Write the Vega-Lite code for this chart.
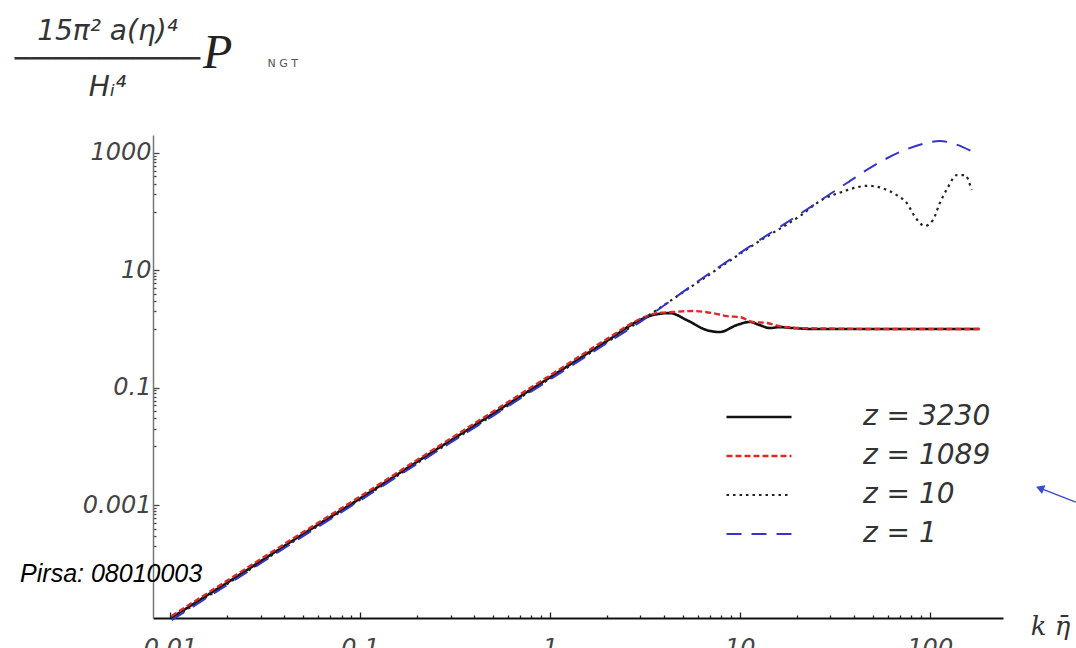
{
  "$schema": "https://vega.github.io/schema/vega-lite/v6.json",
  "width": 850,
  "height": 483,
  "autosize": "none",
  "padding": {"left": 153, "top": 135, "right": 73, "bottom": 30},
  "background": "white",
  "config": {"view": {"stroke": null}},
  "title": {
    "text": "P",
    "subtitle": "\u2800\u2800\u2800\u2800\u2800\u2800\u2800\u2800N G T",
    "anchor": "start",
    "frame": "group",
    "dx": 50,
    "offset": -61,
    "font": "Liberation Serif",
    "fontStyle": "italic",
    "fontWeight": "normal",
    "fontSize": 48,
    "color": "#222",
    "subtitleFont": "DejaVu Sans",
    "subtitleFontSize": 11,
    "subtitleColor": "#555",
    "subtitlePadding": -20
  },
  "layer": [
    {
      "data": {
        "values": [
          {"z": "z = 3230", "k": 0.0102, "P": 1.22e-5},
          {"z": "z = 3230", "k": 0.02, "P": 4.8e-5},
          {"z": "z = 3230", "k": 0.05, "P": 3.2e-4},
          {"z": "z = 3230", "k": 0.1, "P": 1.3e-3},
          {"z": "z = 3230", "k": 0.2, "P": 5.5e-3},
          {"z": "z = 3230", "k": 0.5, "P": 0.036},
          {"z": "z = 3230", "k": 1, "P": 0.15},
          {"z": "z = 3230", "k": 2, "P": 0.63},
          {"z": "z = 3230", "k": 2.98, "P": 1.42},
          {"z": "z = 3230", "k": 3.48, "P": 1.73},
          {"z": "z = 3230", "k": 4.28, "P": 1.87},
          {"z": "z = 3230", "k": 5.26, "P": 1.42},
          {"z": "z = 3230", "k": 6.7, "P": 0.96},
          {"z": "z = 3230", "k": 7.85, "P": 0.89},
          {"z": "z = 3230", "k": 9.64, "P": 1.17},
          {"z": "z = 3230", "k": 11.3, "P": 1.32},
          {"z": "z = 3230", "k": 12.7, "P": 1.17},
          {"z": "z = 3230", "k": 14.4, "P": 1.04},
          {"z": "z = 3230", "k": 16.2, "P": 1.08},
          {"z": "z = 3230", "k": 19, "P": 1.04},
          {"z": "z = 3230", "k": 25, "P": 1.0},
          {"z": "z = 3230", "k": 40, "P": 1.0},
          {"z": "z = 3230", "k": 183, "P": 1.0},
          {"z": "z = 1089", "k": 0.0102, "P": 1.3e-5},
          {"z": "z = 1089", "k": 0.02, "P": 5.2e-5},
          {"z": "z = 1089", "k": 0.05, "P": 3.45e-4},
          {"z": "z = 1089", "k": 0.1, "P": 1.4e-3},
          {"z": "z = 1089", "k": 0.2, "P": 5.9e-3},
          {"z": "z = 1089", "k": 0.5, "P": 0.039},
          {"z": "z = 1089", "k": 1, "P": 0.162},
          {"z": "z = 1089", "k": 2, "P": 0.68},
          {"z": "z = 1089", "k": 2.98, "P": 1.48},
          {"z": "z = 1089", "k": 3.66, "P": 1.87},
          {"z": "z = 1089", "k": 4.44, "P": 1.95},
          {"z": "z = 1089", "k": 5.66, "P": 2.03},
          {"z": "z = 1089", "k": 7.2, "P": 1.87},
          {"z": "z = 1089", "k": 8.55, "P": 1.66},
          {"z": "z = 1089", "k": 10, "P": 1.6},
          {"z": "z = 1089", "k": 11.7, "P": 1.32},
          {"z": "z = 1089", "k": 13.9, "P": 1.27},
          {"z": "z = 1089", "k": 16.2, "P": 1.12},
          {"z": "z = 1089", "k": 20.7, "P": 1.04},
          {"z": "z = 1089", "k": 30, "P": 1.02},
          {"z": "z = 1089", "k": 60, "P": 1.0},
          {"z": "z = 1089", "k": 183, "P": 1.0},
          {"z": "z = 10", "k": 0.0102, "P": 1.15e-5},
          {"z": "z = 10", "k": 0.02, "P": 4.56e-5},
          {"z": "z = 10", "k": 0.05, "P": 3.04e-4},
          {"z": "z = 10", "k": 0.1, "P": 1.24e-3},
          {"z": "z = 10", "k": 0.2, "P": 5.2e-3},
          {"z": "z = 10", "k": 0.5, "P": 0.034},
          {"z": "z = 10", "k": 1, "P": 0.143},
          {"z": "z = 10", "k": 2, "P": 0.6},
          {"z": "z = 10", "k": 2.98, "P": 1.37},
          {"z": "z = 10", "k": 6.16, "P": 6.6},
          {"z": "z = 10", "k": 12.7, "P": 31.6},
          {"z": "z = 10", "k": 20.7, "P": 84},
          {"z": "z = 10", "k": 27, "P": 158},
          {"z": "z = 10", "k": 34.4, "P": 216},
          {"z": "z = 10", "k": 47.2, "P": 275},
          {"z": "z = 10", "k": 55.9, "P": 252},
          {"z": "z = 10", "k": 67, "P": 191},
          {"z": "z = 10", "k": 75.7, "P": 140},
          {"z": "z = 10", "k": 84.4, "P": 78},
          {"z": "z = 10", "k": 94.2, "P": 57},
          {"z": "z = 10", "k": 104, "P": 72},
          {"z": "z = 10", "k": 113, "P": 140},
          {"z": "z = 10", "k": 124, "P": 252},
          {"z": "z = 10", "k": 139, "P": 420},
          {"z": "z = 10", "k": 153, "P": 420},
          {"z": "z = 10", "k": 166, "P": 234},
          {"z": "z = 1", "k": 0.0102, "P": 1.1e-5},
          {"z": "z = 1", "k": 0.02, "P": 4.4e-5},
          {"z": "z = 1", "k": 0.05, "P": 2.95e-4},
          {"z": "z = 1", "k": 0.1, "P": 1.2e-3},
          {"z": "z = 1", "k": 0.2, "P": 5.06e-3},
          {"z": "z = 1", "k": 0.5, "P": 0.033},
          {"z": "z = 1", "k": 1, "P": 0.138},
          {"z": "z = 1", "k": 2, "P": 0.58},
          {"z": "z = 1", "k": 2.98, "P": 1.31},
          {"z": "z = 1", "k": 6.16, "P": 6.84},
          {"z": "z = 1", "k": 12.7, "P": 32.8},
          {"z": "z = 1", "k": 20.7, "P": 91},
          {"z": "z = 1", "k": 36.6, "P": 307},
          {"z": "z = 1", "k": 51.3, "P": 622},
          {"z": "z = 1", "k": 73.8, "P": 1120},
          {"z": "z = 1", "k": 91.8, "P": 1420},
          {"z": "z = 1", "k": 113, "P": 1600},
          {"z": "z = 1", "k": 135, "P": 1420},
          {"z": "z = 1", "k": 173, "P": 995}
        ]
      },
      "mark": {"type": "line", "interpolate": "monotone"},
      "encoding": {
        "x": {
          "field": "k",
          "type": "quantitative",
          "scale": {"type": "log", "domain": [0.00814, 243], "nice": false},
          "axis": {
            "values": [0.01,0.02,0.03,0.04,0.05,0.06,0.07,0.08,0.09,0.1,0.2,0.3,0.4,0.5,0.6,0.7,0.8,0.9,1,2,3,4,5,6,7,8,9,10,20,30,40,50,60,70,80,90,100],
            "labelExpr": "indexof([0.01,0.1,1,10,100], datum.value) >= 0 ? '' + datum.value : ''",
            "tickSize": {"condition": {"test": "indexof([0.01,0.1,1,10,100], datum.value) >= 0", "value": -6}, "value": -3},
            "tickColor": "#222",
            "tickWidth": 1.3,
            "domainColor": "#111",
            "domainWidth": 2,
            "grid": false,
            "labelPadding": 24,
            "labelFont": "DejaVu Sans",
            "labelFontStyle": "italic",
            "labelFontSize": 24,
            "labelColor": "#444",
            "labelOverlap": false,
            "labelFlush": false,
            "labelBound": false,
            "title": "k η̄",
            "titleX": 897,
            "titleY": 8,
            "titleAlign": "center",
            "titleBaseline": "middle",
            "titleFont": "DejaVu Serif",
            "titleFontStyle": "italic",
            "titleFontWeight": "normal",
            "titleFontSize": 26,
            "titleColor": "#333"
          }
        },
        "y": {
          "field": "P",
          "type": "quantitative",
          "scale": {"type": "log", "domain": [1.2e-5, 2018], "nice": false},
          "axis": {
            "values": [0.0001,0.0002,0.0003,0.0004,0.0005,0.0006,0.0007,0.0008,0.0009,0.001,0.01,0.02,0.03,0.04,0.05,0.06,0.07,0.08,0.09,0.1,1,2,3,4,5,6,7,8,9,10,100,200,300,400,500,600,700,800,900,1000],
            "labelExpr": "indexof([0.001,0.1,10,1000], datum.value) >= 0 ? '' + datum.value : ''",
            "tickSize": {"condition": {"test": "indexof([0.001,0.1,10,1000], datum.value) >= 0", "value": -6}, "value": -3},
            "tickColor": "#444",
            "tickWidth": 1.3,
            "domainColor": "#777",
            "domainWidth": 1.5,
            "grid": false,
            "labelPadding": 8,
            "labelFont": "DejaVu Sans",
            "labelFontStyle": "italic",
            "labelFontSize": 24,
            "labelColor": "#444",
            "labelOverlap": false,
            "labelFlush": false,
            "labelBound": false,
            "title": ["15π² a(η)⁴", "───────────", "Hᵢ⁴"],
            "titleAngle": 0,
            "titleX": -46,
            "titleY": -104,
            "titleAlign": "center",
            "titleBaseline": "middle",
            "titleLineHeight": 28,
            "titleFont": "DejaVu Sans",
            "titleFontStyle": "italic",
            "titleFontWeight": "normal",
            "titleFontSize": 28,
            "titleColor": "#333"
          }
        },
        "color": {
          "field": "z",
          "type": "nominal",
          "scale": {"domain": ["z = 3230", "z = 1089", "z = 10", "z = 1"], "range": ["#111111", "#e02828", "#222222", "#3434c8"]},
          "legend": {
            "orient": "none",
            "legendX": 572,
            "legendY": 268,
            "title": null,
            "symbolType": "stroke",
            "symbolSize": 4225,
            "clipHeight": 28,
            "rowPadding": 11,
            "labelOffset": 70,
            "labelFont": "DejaVu Sans",
            "labelFontStyle": "italic",
            "labelFontSize": 28,
            "labelColor": "#333",
            "padding": 0
          }
        },
        "strokeDash": {
          "field": "z",
          "type": "nominal",
          "scale": {"domain": ["z = 3230", "z = 1089", "z = 10", "z = 1"], "range": [[1, 0], [6, 3], [2.5, 4], [15, 10]]}
        },
        "strokeWidth": {
          "field": "z",
          "type": "ordinal",
          "scale": {"domain": ["z = 3230", "z = 1089", "z = 10", "z = 1"], "range": [2.6, 2, 2.6, 3.2]}
        }
      }
    },
    {
      "data": {"values": [{"k": 0.001625, "P": 6.7e-5, "label": "Pirsa: 08010003"}]},
      "mark": {"type": "text", "align": "left", "baseline": "middle", "font": "Liberation Sans", "fontStyle": "italic", "fontSize": 25, "color": "#000"},
      "encoding": {
        "x": {"field": "k", "type": "quantitative"},
        "y": {"field": "P", "type": "quantitative"},
        "text": {"field": "label"}
      }
    },
    {
      "data": {"values": [{"k": 587, "P": 1.13e-3, "k2": 392, "P2": 1.88e-3}]},
      "mark": {"type": "rule", "color": "#3a4ad8", "strokeWidth": 1.5},
      "encoding": {
        "x": {"field": "k", "type": "quantitative"},
        "y": {"field": "P", "type": "quantitative"},
        "x2": {"field": "k2"},
        "y2": {"field": "P2"}
      }
    },
    {
      "data": {"values": [{"k": 380, "P": 1.95e-3}]},
      "mark": {"type": "point", "shape": "triangle-left", "filled": true, "color": "#3a4ad8", "size": 90, "angle": 21, "opacity": 1},
      "encoding": {
        "x": {"field": "k", "type": "quantitative"},
        "y": {"field": "P", "type": "quantitative"}
      }
    }
  ]
}
